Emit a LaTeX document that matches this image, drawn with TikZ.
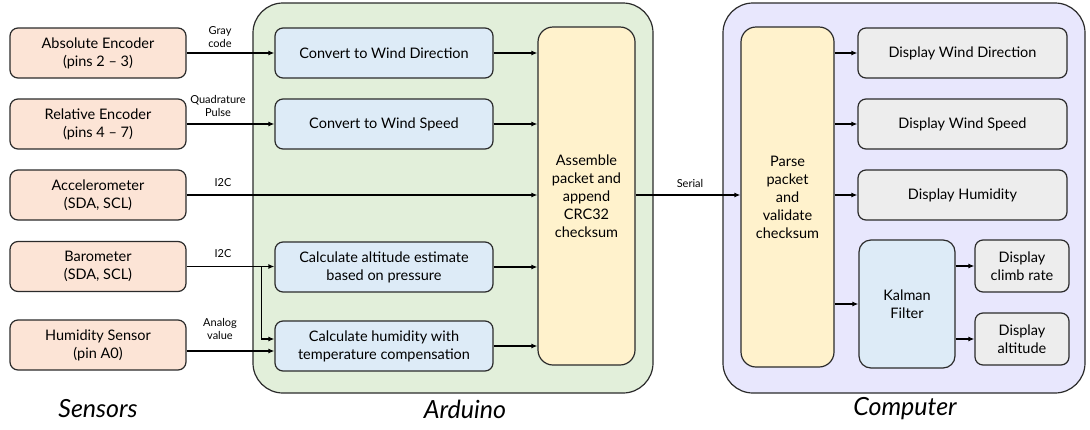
\documentclass[tikz,border=0pt]{standalone}
\usepackage{fontspec}
\setmainfont{Lato}
\usetikzlibrary{arrows.meta,calc}
\definecolor{sensfill}{HTML}{FCE4D6}
\definecolor{bluefill}{HTML}{DDEBF7}
\definecolor{yelfill}{HTML}{FFF2CC}
\definecolor{grayfill}{HTML}{EDEDED}
\definecolor{ardfill}{HTML}{E2EFDA}
\definecolor{compfill}{HTML}{E8E7FD}
\definecolor{edge}{HTML}{2B2B2B}
\tikzset{
  box/.style={draw=edge, line width=1.2pt, rounded corners=8pt, align=center,
    font=\fontsize{14.5}{18}\selectfont, inner sep=2pt},
  sensor/.style={box, fill=sensfill, minimum width=176pt, minimum height=50pt},
  proc/.style={box, fill=bluefill, minimum width=218pt, minimum height=50pt},
  disp/.style={box, fill=grayfill, minimum width=209pt, minimum height=50pt},
  tall/.style={box, fill=yelfill, rounded corners=15pt},
  region/.style={draw=edge, line width=1.2pt, rounded corners=30pt},
  arr/.style={line width=1.5pt, -{Latex[length=6pt,width=5pt]}},
  lbl/.style={font=\fontsize{11}{13}\selectfont, align=center},
  title/.style={font=\fontsize{25}{28}\selectfont\itshape}
}
\begin{document}
\begin{tikzpicture}[x=1pt,y=-1pt]
\useasboundingbox (0,0) rectangle (1090,429);
% regions
\draw[region, fill=ardfill] (253,3) rectangle (653,393);
\draw[region, fill=compfill] (723,3) rectangle (1085,393);
% sensors
\node[sensor] (abs) at (98,53) {Absolute Encoder\\(pins 2 -- 3)};
\node[sensor] (rel) at (98,124) {Relative Encoder\\(pins 4 -- 7)};
\node[sensor] (acc) at (98,195) {Accelerometer\\(SDA, SCL)};
\node[sensor] (bar) at (98,266.5) {Barometer\\(SDA, SCL)};
\node[sensor] (hs) at (98,345) {Humidity Sensor\\(pin A0)};
% arduino
\node[proc] (dir) at (384,53) {Convert to Wind Direction};
\node[proc] (spd) at (384,124) {Convert to Wind Speed};
\node[proc] (alt) at (384,267) {Calculate altitude estimate\\based on pressure};
\node[proc] (hum) at (384,346) {Calculate humidity with\\temperature compensation};
\node[tall, minimum width=97pt, minimum height=338pt] (asm) at (586.5,196) {Assemble\\packet and\\append\\CRC32\\checksum};
% computer
\node[tall, minimum width=93pt, minimum height=340pt] (par) at (787.5,197) {Parse\\packet\\and\\validate\\checksum};
\node[disp] (ddir) at (962.5,53) {Display Wind Direction};
\node[disp] (dspd) at (962.5,124) {Display Wind Speed};
\node[disp] (dhum) at (962.5,195) {Display Humidity};
\node[box, fill=bluefill, rounded corners=12pt, minimum width=96pt, minimum height=128pt] (kal) at (907,304) {Kalman\\Filter};
\node[box, fill=grayfill, minimum width=94pt, minimum height=52pt] (clb) at (1022,266) {Display\\climb rate};
\node[box, fill=grayfill, minimum width=94pt, minimum height=52pt] (dalt) at (1022,339) {Display\\altitude};
% titles
\node[title] (tsens) at (98,409) {Sensors};
\node[title] (tard) at (465,409) {Arduino};
\node[title] (tcomp) at (905,409) {Computer};
% sensor connectors
\draw[arr] (abs.east) -- (dir.west);
\draw[arr] (rel.east) -- (spd.west);
\draw[arr] (acc.east) -- (acc.east -| asm.west);
\draw[arr] (bar.east) -- (bar.east -| alt.west);
\coordinate (j) at ([xshift=-13pt]bar.east -| alt.west);
\draw[arr] (j) |- ([yshift=7pt]hum.west);
\draw[arr] ([yshift=-6pt]hs.east) -- ([yshift=-6pt]hs.east -| hum.west);
\node[lbl] (l1) at (220,37) {Gray\\code};
\node[lbl] (l2) at (218,106) {Quadrature\\Pulse};
\node[lbl] (l3) at (223,183) {I2C};
\node[lbl] (l4) at (223,254) {I2C};
\node[lbl] (l5) at (220,329) {Analog\\value};
% arduino internal
\draw[arr] (dir.east) -- (dir.east -| asm.west);
\draw[arr] (spd.east) -- (spd.east -| asm.west);
\draw[arr] (alt.east) -- (alt.east -| asm.west);
\draw[arr] (hum.east) -- (hum.east -| asm.west);
% serial
\draw[arr] (asm.east |- acc.east) -- (acc.east -| par.west);
\node[lbl] (l6) at (690,183) {Serial};
% computer internal
\draw[arr] (par.east |- ddir.west) -- (ddir.west);
\draw[arr] (par.east |- dspd.west) -- (dspd.west);
\draw[arr] (par.east |- dhum.west) -- (dhum.west);
\draw[arr] (par.east |- kal.west) -- (kal.west);
\draw[arr] (kal.east |- clb.west) -- (clb.west);
\draw[arr] (kal.east |- dalt.west) -- (dalt.west);
\end{tikzpicture}
\end{document}
